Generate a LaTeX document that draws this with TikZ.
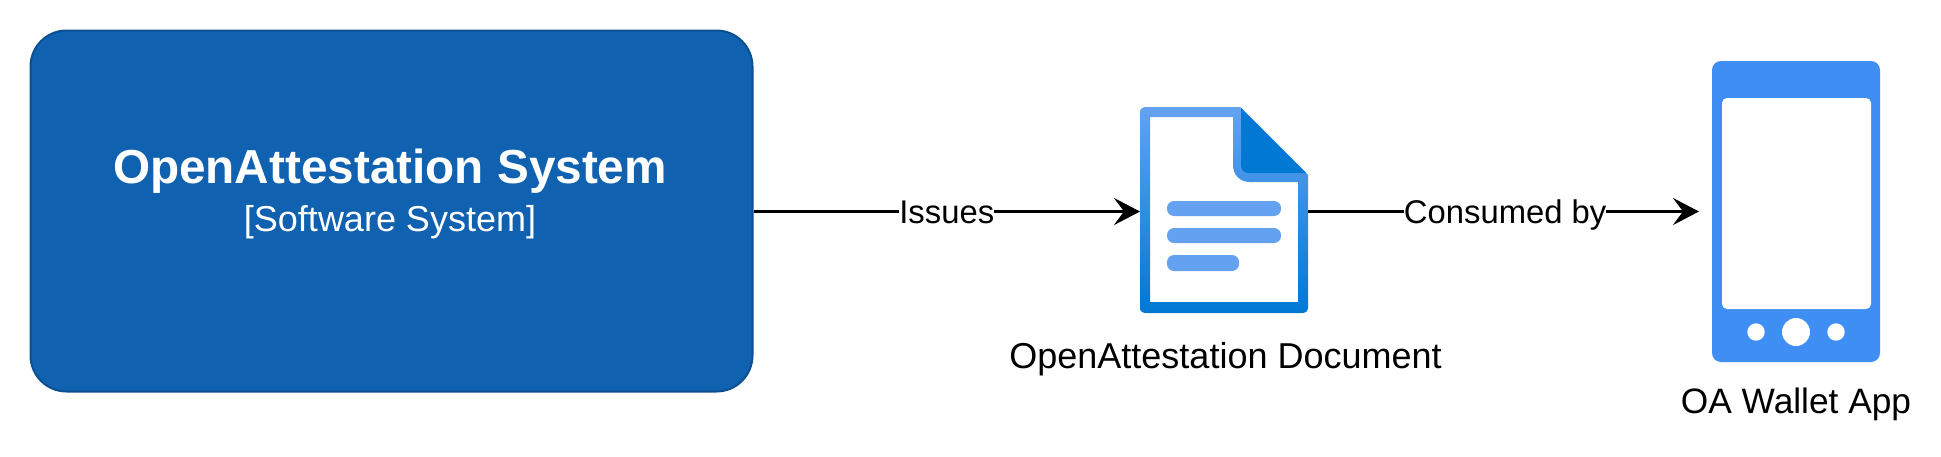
\documentclass[tikz,border=0pt]{standalone}
\usepackage{fontspec}
\setmainfont{Liberation Sans}
\usetikzlibrary{arrows.meta}
\definecolor{sysfill}{HTML}{1061B0}
\definecolor{sysedge}{HTML}{0D5091}
\definecolor{doclight}{HTML}{64A2F1}
\definecolor{docdark}{HTML}{0078D4}
\definecolor{phoneblue}{HTML}{3E8EF3}
\tikzset{
  sysbox/.style={draw=sysedge,fill=sysfill,line width=2pt,rounded corners=36pt,minimum width=722pt,minimum height=361pt,inner sep=0pt,outer sep=1pt},
  iconarea/.style={inner sep=0pt,outer sep=0pt},
  titletext/.style={text=white,font=\bfseries\fontsize{47.7}{56}\selectfont,anchor=base,inner sep=0pt},
  subtext/.style={text=white,font=\fontsize{36}{42}\selectfont,anchor=base,inner sep=0pt},
  captext/.style={text=black,font=\fontsize{36}{42}\selectfont,anchor=base,inner sep=0pt},
  conntext/.style={text=black,fill=white,font=\fontsize{32.8}{36}\selectfont,inner xsep=0pt,inner ysep=0pt,text height=23pt,text depth=0pt},
  conn/.style={draw=black,line width=3pt,-{Stealth[length=26pt,width=27pt,inset=10pt]}},
  docbar/.style={fill=doclight,rounded corners=7pt},
}
\begin{document}
\begin{tikzpicture}[x=1pt,y=-1pt]
\useasboundingbox (0,0) rectangle (1941,456);
\node[sysbox] (sys) at (391.5,211) {};
\node[titletext] (title) at (390,183) {OpenAttestation System};
\node[subtext] (sub) at (390,231) {[Software System]};
% document icon
\node[iconarea,minimum width=168pt,minimum height=208pt] (doc) at (1224,211.5) {};
\path[even odd rule,top color=doclight,bottom color=docdark]
  (1146,107) -- (1240,107) -- (1308,175) -- (1308,307) .. controls (1308,311) and (1306,313) .. (1302,313) -- (1146,313) .. controls (1142,313) and (1140,311) .. (1140,307) -- (1140,113) .. controls (1140,109) and (1142,107) .. (1146,107) -- cycle
  (1150,117) -- (1233,117) -- (1233,165) .. controls (1233,175) and (1240,182) .. (1250,182) -- (1298,182) -- (1298,302) -- (1150,302) -- cycle;
\fill[docdark] (1241,108) -- (1241,165) .. controls (1241,170) and (1244,173) .. (1249,173) -- (1306,173) -- cycle;
\fill[docbar] (1167,201) rectangle (1281,216);
\fill[docbar] (1167,228) rectangle (1281,243);
\fill[docbar] (1167,255) rectangle (1239,271);
\node[captext] (doclabel) at (1225.5,368) {OpenAttestation Document};
% phone icon
\node[iconarea,minimum width=168pt,minimum height=301pt] (phone) at (1796,211.5) {};
\fill[phoneblue,rounded corners=9pt] (1712,61) rectangle (1880,362);
\fill[white,rounded corners=5pt] (1722,98) rectangle (1871,309);
\fill[white] (1756,332) circle[radius=8.7pt];
\fill[white] (1796,332) circle[radius=14pt];
\fill[white] (1836,332) circle[radius=8.7pt];
\node[captext,font=\fontsize{35.3}{42}\selectfont] (phonelabel) at (1796,413) {OA Wallet App};
% connectors
\draw[conn] (sys.east |- doc.west) -- node[conntext] (issues) {Issues} (doc.west);
\draw[conn,shorten >=13pt] (doc.east) -- node[conntext,pos=0.488] (consumed) {Consumed by} (phone.west);
\end{tikzpicture}
\end{document}
